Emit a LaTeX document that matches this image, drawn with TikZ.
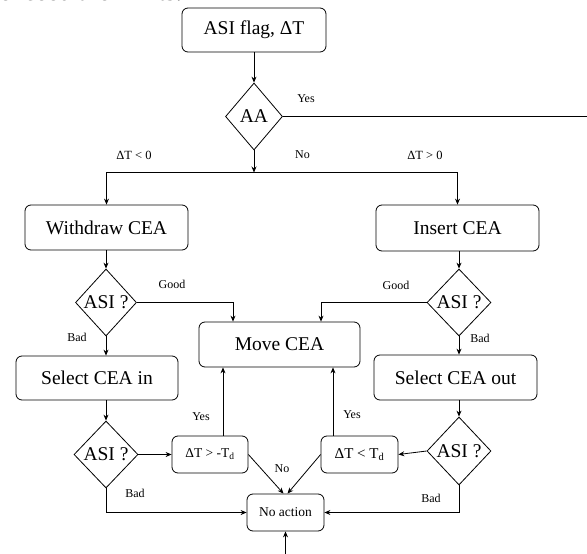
\documentclass[tikz,border=0pt]{standalone}
\usepackage{fontspec}
\setmainfont{Liberation Serif}
\usetikzlibrary{shapes.geometric,arrows.meta,calc}
\begin{document}
\begin{tikzpicture}[x=1pt,y=-1pt,
  line width=0.8pt,
  arr/.style={-{Stealth[length=6pt,width=5pt]}},
  box/.style={draw,rounded corners=6pt,inner sep=0pt,align=center},
  dia/.style={draw,diamond,inner sep=0pt,minimum width=61pt,minimum height=67pt,font=\fontsize{19.5}{20}\selectfont},
  big/.style={font=\fontsize{19.5}{22}\selectfont},
  lbl/.style={inner sep=0pt,font=\fontsize{12}{13}\selectfont}
]
\useasboundingbox (0,0) rectangle (587,554);
\clip (0,0) rectangle (587,554);
\node[anchor=base west, font=\fontsize{26}{28}\selectfont, inner sep=0pt] (toptext) at (-1,1) {exceed the limits.};

\node[box,big,minimum width=144pt,minimum height=44pt] (start) at (254,30) {ASI flag, ΔT};
\node[dia,minimum width=57pt] (aa) at (254,116.5) {AA};
\node[box,big,minimum width=163pt,minimum height=45pt] (wd) at (106.5,227.5) {Withdraw CEA};
\node[box,big,minimum width=163pt,minimum height=46pt] (ins) at (457.5,228) {Insert CEA};
\node[dia] (al1) at (106,302.5) {ASI ?};
\node[dia,minimum width=64pt] (ar1) at (459,302.5) {ASI ?};
\node[box,big,minimum width=161pt,minimum height=45pt] (move) at (279.5,344.5) {Move CEA};
\node[box,big,minimum width=162pt,minimum height=44pt] (sin) at (97,378) {Select CEA in};
\node[box,big,minimum width=163pt,minimum height=45pt] (sout) at (455.5,377.5) {Select CEA out};
\node[dia,minimum width=64pt] (al2) at (106,454.5) {ASI ?};
\node[dia,minimum width=64pt,minimum height=68pt] (ar2) at (459,451) {ASI ?};
\node[box,minimum width=76pt,minimum height=37pt,font=\fontsize{13.5}{14}\selectfont] (tdl) at (210,454.5) {ΔT > -T\textsubscript{d}};
\node[box,minimum width=77pt,minimum height=37pt,font=\fontsize{15}{16}\selectfont] (tdr) at (359.5,454.5) {ΔT < T\textsubscript{d}};
\node[box,minimum width=77pt,minimum height=37pt,font=\fontsize{13.5}{14}\selectfont] (na) at (285.5,512.5) {No action};

% labels
\node[lbl] (l1) at (306,99) {Yes};
\node[lbl] (l2) at (302.5,155) {No};
\node[lbl,font=\fontsize{12.5}{13}\selectfont] (l3) at (134,155) {ΔT < 0};
\node[lbl,font=\fontsize{12.5}{13}\selectfont] (l4) at (425,155) {ΔT > 0};
\node[lbl] (l5) at (172,284) {Good};
\node[lbl] (l6) at (396,285) {Good};
\node[lbl] (l7) at (77,337) {Bad};
\node[lbl] (l8) at (480,338) {Bad};
\node[lbl] (l9) at (201,417) {Yes};
\node[lbl] (l10) at (352,415) {Yes};
\node[lbl] (l11) at (282,469) {No};
\node[lbl] (l12) at (135,493) {Bad};
\node[lbl] (l13) at (431,498) {Bad};

% connectors
\coordinate (yesend) at (592,116.5);
\coordinate (j) at (254,172.5);
\coordinate (bot) at (285.5,562);
\draw[arr] (start.south) -- (aa.north);
\draw (aa.east) -- (yesend);
\draw[arr] (aa.south) -- (j);
\draw[arr] (j) -| (wd.north);
\draw[arr] (j) -| (ins.north);
\draw[arr] (al1.north |- wd.south) -- (al1.north);
\draw[arr] (ar1.north |- ins.south) -- (ar1.north);
\draw[arr] (al1.east) -| ([xshift=-46.5pt]move.north);
\draw[arr] (ar1.west) -| ([xshift=41.5pt]move.north);
\draw[arr] (al1.south) -- (al1.south |- sin.north);
\draw[arr] (ar1.south) -- (ar1.south |- sout.north);
\draw[arr] (al2.north |- sin.south) -- (al2.north);
\draw[arr] (ar2.north |- sout.south) -- (ar2.north);
\draw[arr] (al2.east) -- (tdl.west);
\draw[arr] (ar2.west) -- (tdr.east);
\draw[arr] ([xshift=13pt]tdl.north) -- ([xshift=13pt]tdl.north |- move.south);
\draw[arr] ([xshift=-26.5pt]tdr.north) -- ([xshift=-26.5pt]tdr.north |- move.south);
\draw[arr] (tdl.east) -- ([xshift=-2pt]na.north);
\draw[arr] (tdr.west) -- ([xshift=2pt]na.north);
\draw[arr] (al2.south) |- (na.west);
\draw[arr] (ar2.south) |- (na.east);
\draw[arr] (bot) -- (na.south);
\end{tikzpicture}
\end{document}
